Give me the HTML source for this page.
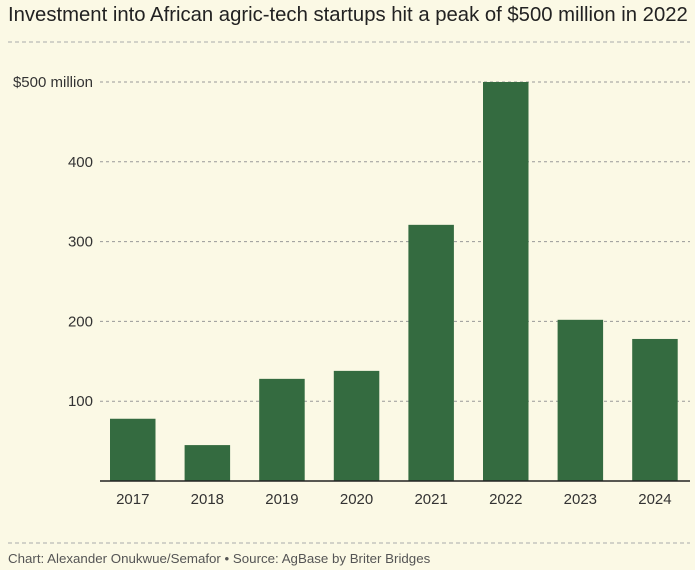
<!DOCTYPE html>
<html><head><meta charset="utf-8"><style>
html,body{margin:0;padding:0;background:#fbf9e5;}
body{width:695px;height:570px;overflow:hidden;position:relative;font-family:"Liberation Sans",sans-serif;}
#title{position:absolute;left:8px;top:4px;font-size:20.3px;color:#222;white-space:nowrap;}
#footer{position:absolute;left:8px;top:551px;font-size:13.3px;color:#555;white-space:nowrap;}
</style></head><body>
<div id="title">Investment into African agric-tech startups hit a peak of $500 million in 2022</div>
<svg id="chart" width="695" height="570" style="position:absolute;left:0;top:0">
<line x1="8" x2="690" y1="42" y2="42" stroke="#aaa" stroke-dasharray="4,3"/>
<line x1="8" x2="690" y1="543" y2="543" stroke="#aaa" stroke-dasharray="4,3"/>
<g id="grid"></g><g id="bars"></g><g id="xlabels"></g>
</svg>
<div id="footer">Chart: Alexander Onukwue/Semafor • Source: AgBase by Briter Bridges</div>
<script>
const categories=["2017","2018","2019","2020","2021","2022","2023","2024"];
const values=[78,45,128,138,321,500,202,178];
const yTicks=[100,200,300,400,500];
const yTickLabels=["100","200","300","400","$500 million"];
const NS="http://www.w3.org/2000/svg";
const base=481,top500=82,x0=110,step=74.6,bw=45.5;
function y(v){return base-(base-top500)*v/500;}
function x(i){return x0+i*step;}
function mk(t,a,p){const e=document.createElementNS(NS,t);for(const k in a)e.setAttribute(k,a[k]);p.appendChild(e);return e;}
const grid=document.getElementById('grid'),bars=document.getElementById('bars'),xl=document.getElementById('xlabels');
yTicks.forEach((t,i)=>{
  const lab=yTickLabels[i];
  const tx=mk('text',{x:93,y:y(t)+5,'text-anchor':'end','font-size':15,fill:'#333','font-family':'Liberation Sans, sans-serif'},grid);
  tx.textContent=lab;
  
  
  const l=mk('line',{x1:100,x2:690,y1:y(t),y2:y(t),stroke:'#999','stroke-dasharray':'3,3'},grid);
  
  
});
categories.forEach((c,i)=>{
  const r=mk('rect',{x:x(i),y:y(values[i]),width:bw,height:base-y(values[i]),fill:'#346b40'},bars);
  
  
  const t=mk('text',{x:x(i)+bw/2,y:504,'text-anchor':'middle','font-size':15,fill:'#333','font-family':'Liberation Sans, sans-serif'},xl);
  t.textContent=c;
  
  
});
const ax=mk('line',{x1:100,x2:690,y1:base,y2:base,stroke:'#222','stroke-width':1.5},xl);


</script>
</body></html>
